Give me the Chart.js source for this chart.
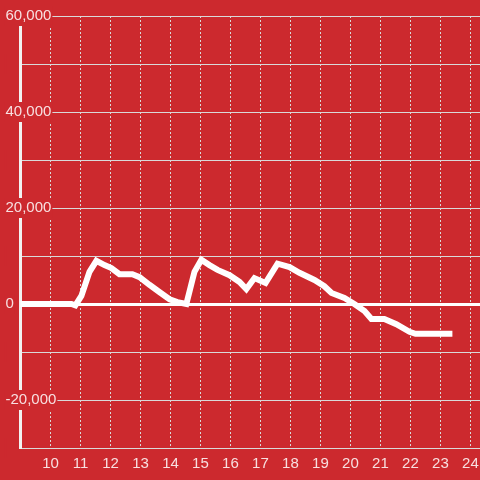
<!DOCTYPE html>
<html lang="en">
  <head>
    <meta charset="utf-8" />
    <title></title>
    <script src="https://cdn.jsdelivr.net/npm/chart.js@4.4.1/dist/chart.umd.min.js"></script>
    <style>
      body { margin: 0; background: #cc292e; }
    </style>
  </head>
  <body>
    <canvas id="line_chart" width="480" height="480"></canvas>
    <script>
      // hour of day vs value
      const xValues = [8.5, 10.7, 10.83, 11.03, 11.3, 11.53, 11.8, 12.03, 12.3, 12.73, 12.97, 13.3, 13.63, 13.97, 14.23, 14.53,
        14.8, 15.03, 15.3, 15.57, 15.97, 16.3, 16.53, 16.8, 17.17, 17.57, 17.97, 18.3, 18.8, 19.13, 19.37, 19.8,
        20.13, 20.47, 20.7, 21.13, 21.53, 21.97, 22.17, 23.4];
      const yValues = [0, 0, -300, 1700, 6700, 9000, 8100, 7500, 6200, 6200, 5600, 4000, 2500, 1000, 400, 0,
        6700, 9200, 8100, 7100, 6000, 4600, 3100, 5400, 4400, 8400, 7700, 6500, 5000, 3700, 2300, 1250,
        0, -1450, -3100, -3100, -4200, -5800, -6200, -6200];
      const yLabelled = [60000, 40000, 20000, 0, -20000];

      const labelColor = "rgba(255,255,255,0.85)";
      const gridColor = "#d9d9d9";

      const points = xValues.map((x, i) => ({ x: x, y: yValues[i] }));

      const config = {
        type: "line",
        data: {
          datasets: [
            {
              data: points,
              borderColor: "#ffffff",
              borderWidth: 6,
              pointRadius: 0,
              tension: 0,
              fill: false,
            },
          ],
        },
        options: {
          responsive: false,
          animation: false,
          layout: { padding: { top: 16, left: 5, right: 0, bottom: 0 } },
          plugins: { legend: { display: false }, tooltip: { enabled: false } },
          scales: {
            x: {
              type: "linear",
              min: 9,
              max: 24.32,
              afterBuildTicks: (scale) => {
                scale.ticks = scale.ticks.filter((t) => Number.isInteger(t.value));
              },
              afterFit: (scale) => { scale.height = 32; },
              // invisible tick marks push the labels down instead of ticks.padding
              grid: { color: gridColor, lineWidth: 1, drawTicks: true, tickLength: 7, tickColor: "rgba(0,0,0,0)" },
              border: { color: gridColor, width: 1, dash: [2, 2] },
              ticks: {
                stepSize: 1,
                includeBounds: false,
                padding: 0,
                color: labelColor,
                font: { family: "Liberation Sans", size: 15 },
                maxRotation: 0,
                autoSkip: false,
                callback: (v) => (v >= 10 ? v : ""),
              },
            },
            y: {
              min: -30000,
              max: 60000,
              afterFit: (scale) => { scale.width = 15.5; },
              grid: {
                drawTicks: false,
                color: (ctx) => (ctx.tick && ctx.tick.value === 0 ? "#ffffff" : gridColor),
                lineWidth: (ctx) => (ctx.tick && ctx.tick.value === 0 ? 3 : 1),
              },
              border: { color: "#f2f2f2", width: 3 },
              ticks: {
                stepSize: 10000,
                mirror: true,
                padding: -15,
                color: labelColor,
                font: { family: "Liberation Sans", size: 15 },
                showLabelBackdrop: true,
                backdropColor: "#cc292e",
                backdropPadding: 1,
                callback: (v) => (yLabelled.includes(v) ? v.toLocaleString("en-US") : ""),
              },
            },
          },
        },
      };

      const myChart = new Chart(document.getElementById("line_chart"), config);
    </script>
  </body>
</html>
